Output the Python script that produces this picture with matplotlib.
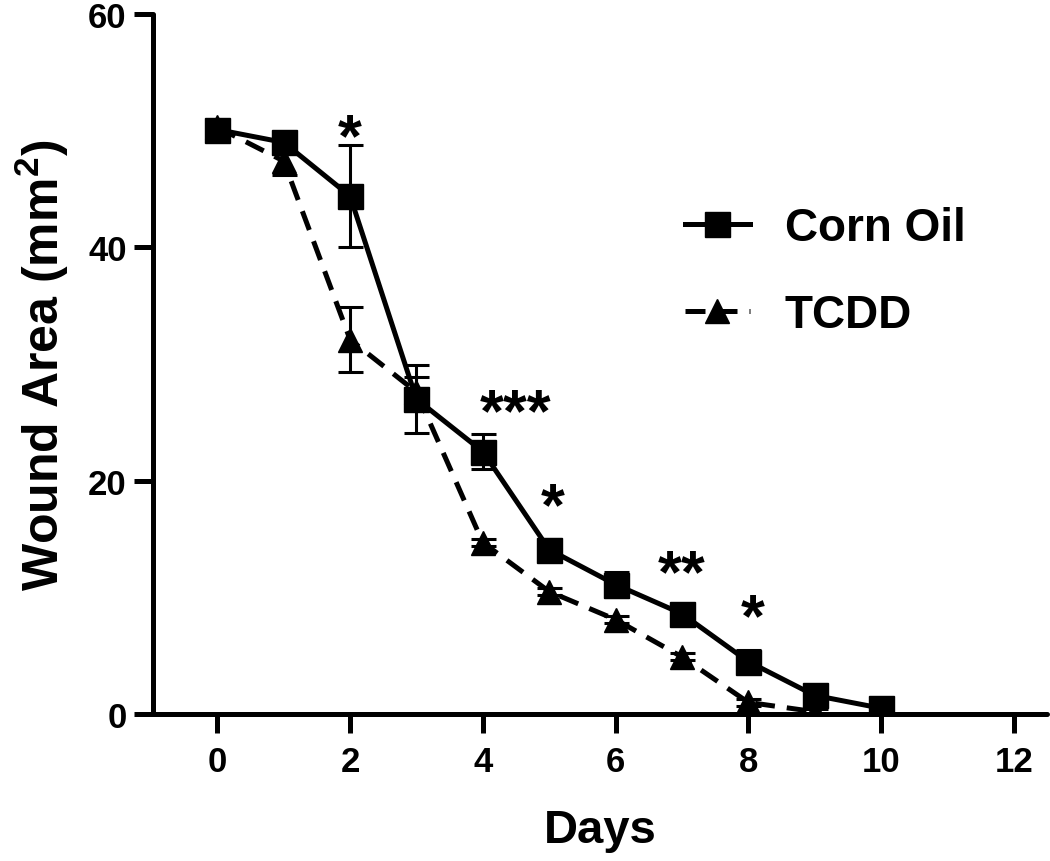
import matplotlib
matplotlib.use("Agg")
import matplotlib.pyplot as plt
from matplotlib.lines import Line2D

# data
days_corn = [0, 1, 2, 3, 4, 5, 6, 7, 8, 9, 10]
corn_oil = [50.1, 49.0, 44.4, 27.0, 22.5, 14.1, 11.1, 8.6, 4.5, 1.6, 0.5]
corn_err = [0.4, 0.7, 4.4, 2.9, 1.5, 0.9, 1.1, 0.7, 1.0, 0.6, 0.3]

days_tcdd = [0, 1, 2, 3, 4, 5, 6, 7, 8, 9]
tcdd = [50.3, 47.4, 32.1, 27.6, 14.7, 10.5, 8.1, 4.9, 1.0, 0.2]
tcdd_err = [0.3, 1.2, 2.75, 1.3, 0.3, 0.3, 0.3, 0.3, 0.3, 0.2]

# significance marks (day, height, label)
sig_x = [2, 4.5, 5.05, 7.0, 8.07]
sig_y = [49.2, 25.7, 17.6, 11.9, 8.1]
sig_labels = ['*', '***', '*', '**', '*']

plt.rcParams['font.family'] = ['Liberation Sans', 'DejaVu Sans']
plt.rcParams['font.weight'] = 'bold'
plt.rcParams['mathtext.fontset'] = 'custom'
plt.rcParams['mathtext.rm'] = 'Liberation Sans:bold'
plt.rcParams['mathtext.bf'] = 'Liberation Sans:bold'
plt.rcParams['mathtext.it'] = 'Liberation Sans:bold'

fig = plt.figure(figsize=(10.5, 8.62), dpi=100)
ax = fig.add_axes([0.1457, 0.1705, 0.8513, 0.812])

lw = 3.6
dash = (4, 2.4)
ax.errorbar(days_tcdd, tcdd, yerr=tcdd_err, color='black', lw=lw, dashes=dash,
            marker='^', markersize=17, capsize=9, elinewidth=2.2, capthick=2.2,
            zorder=3)
ax.errorbar(days_corn, corn_oil, yerr=corn_err, color='black', lw=lw, ls='-',
            marker='s', markersize=18, capsize=9, elinewidth=2.2, capthick=2.2,
            zorder=4)

for x, y, s in zip(sig_x, sig_y, sig_labels):
    ax.text(x, y, s, ha='center', va='center', fontsize=44, fontweight='bold')

ax.set_xlim(-0.97, 12.5)
ax.set_ylim(0, 60)
ax.set_xticks([0, 2, 4, 6, 8, 10, 12])
ax.set_yticks([0, 20, 40, 60])

for side in ['top', 'right']:
    ax.spines[side].set_visible(False)
for side in ['left', 'bottom']:
    ax.spines[side].set_linewidth(3.6)
    ax.spines[side].set_capstyle('round')
    ax.spines[side].set_zorder(5)

ax.tick_params(axis='both', direction='out', length=14, width=3.6, labelsize=25, pad=8)
ax.tick_params(axis='y', pad=5)
for lab in ax.get_xticklabels() + ax.get_yticklabels():
    lab.set_fontweight('bold')

ax.set_xlabel('Days', fontsize=34, fontweight='bold', labelpad=22)
ax.set_ylabel('Wound Area (mm$^{2}$)', fontsize=36, fontweight='bold', labelpad=12)

h_corn = Line2D([], [], color='black', lw=lw, ls='-', marker='s', markersize=18)
h_tcdd = Line2D([], [], color='black', lw=lw, dashes=dash, marker='^', markersize=17)
fig.legend([h_corn, h_tcdd], ['Corn Oil', 'TCDD'], loc='center left',
           bbox_to_anchor=(0.652, 0.684), frameon=False, fontsize=33,
           handlelength=1.42, handletextpad=0.76, labelspacing=0.95,
           borderpad=0, borderaxespad=0)

fig.savefig('out.png', dpi=100)
